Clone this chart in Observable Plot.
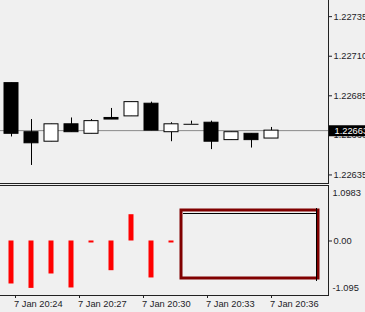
<!DOCTYPE html>
<html><head><meta charset="utf-8">
<script src="https://cdn.jsdelivr.net/npm/d3@7"></script>
<script src="https://cdn.jsdelivr.net/npm/@observablehq/plot@0.6"></script>
<style>
html,body{margin:0;padding:0;background:#f0f0f0;}
#chart{width:365px;height:312px;overflow:hidden;background:#f0f0f0}
#chart svg{display:block;overflow:hidden}
</style></head><body><div id="chart"></div>
<script>
// ---- data ----
const barIndex = [0,1,2,3,4,5,6,7,8,9,10,11,12,13];
const openP  = [1.22693,1.22662,1.22656,1.22667,1.22661,1.22671,1.22672,1.22680,1.22662,1.22667,1.22668,1.22657,1.22661,1.22658];
const highP  = [1.22693,1.22670,1.22667,1.22671,1.22670,1.22677,1.22681,1.22681,1.22668,1.22669,1.22669,1.22662,1.22661,1.22665];
const lowP   = [1.22659,1.22641,1.22656,1.22662,1.22661,1.22670,1.22672,1.22663,1.22656,1.22667,1.22651,1.22657,1.22652,1.22658];
const closeP = [1.22661,1.22655,1.22667,1.22662,1.22669,1.22670,1.22681,1.22663,1.22667,1.22667,1.22656,1.22662,1.22657,1.22663];
const lastPrice = 1.22663;
const priceTicks = [1.22735, 1.22710, 1.22685, 1.22660, 1.22635];

const histIndex = [0,1,2,3,4,5,6,7,8];
const histValues = [-0.993,-1.095,-0.762,-1.085,-0.046,-0.686,0.607,-0.854,-0.046];
const oscExtremes = [1.0983, -1.095];
const oscExtremeLabels = ["1.0983", "-1.095"];
const oscZero = [0];

const timeTickPos = [0.2, 3.4, 6.6, 9.8, 13.0];
const timeTickLabels = ["7 Jan 20:24", "7 Jan 20:27", "7 Jan 20:30", "7 Jan 20:33", "7 Jan 20:36"];

const boxX = [8.5, 15.35];
const boxY = [-0.8663, 0.7042];

// ---- build ----
const BG = "#f0f0f0";
const INK = "#1c1c28";
const FONT = "'Liberation Sans', Arial, sans-serif";
const xDomain = [-0.55, 15.85];
const candles = barIndex.map((i, k) => ({i, o: openP[k], h: highP[k], l: lowP[k], c: closeP[k]}));
const hist = histIndex.map((i, k) => ({i, v: histValues[k]}));

const upper = Plot.plot({
  width: 365, height: 184,
  marginTop: 0, marginBottom: 1, marginLeft: 0, marginRight: 37,
  style: {background: BG, fontFamily: FONT, fontSize: "9.3px", color: INK},
  x: {domain: xDomain, axis: null},
  y: {domain: [1.226296, 1.227452], axis: null},
  marks: [
    Plot.ruleY([lastPrice], {stroke: "#8a8a8a"}),
    Plot.ruleX(candles, {x: "i", y1: "l", y2: "h", stroke: "black"}),
    Plot.rect(candles, {
      x1: d => d.i - 0.35, x2: d => d.i + 0.35, y1: "o", y2: "c",
      fill: d => d.c >= d.o ? "white" : "black", stroke: "black"
    }),
    Plot.ruleY(candles.filter(d => d.o === d.c), {y: "c", x1: d => d.i - 0.375, x2: d => d.i + 0.375, stroke: "black"}),
    Plot.frame({insetLeft: -3, insetTop: -3, stroke: "#222"}),
    Plot.axisY(priceTicks, {anchor: "right", label: null, tickSize: 3, tickPadding: 2, tickFormat: d => d.toFixed(5), fontSize: 9.3}),
    Plot.ruleY([lastPrice], {x1: 15.9, x2: 17.9, stroke: "black", strokeWidth: 11}),
    Plot.text([lastPrice], {x: 15.9, y: d => d, text: d => d.toFixed(5), fill: "white", textAnchor: "start", dx: 5, fontSize: 9.3})
  ]
});

const lower = Plot.plot({
  width: 365, height: 128,
  marginTop: 1, marginBottom: 17, marginLeft: 0, marginRight: 37,
  style: {background: BG, fontFamily: FONT, fontSize: "9.3px", color: INK},
  x: {domain: xDomain, axis: null},
  y: {domain: [-1.095, 1.0983], range: [103.9, 8.94], axis: null},
  marks: [
    Plot.rect(hist, {x1: d => d.i - 0.125, x2: d => d.i + 0.125, y1: 0, y2: "v", fill: "#ff0000"}),
    Plot.rect([0], {x1: boxX[0], x2: boxX[1], y1: boxY[0], y2: boxY[1], fill: BG, stroke: "#800000", strokeWidth: 3}),
    Plot.ruleY([boxY[1]], {x1: boxX[0], x2: boxX[1], dy: 3, insetLeft: 2, insetRight: 2, stroke: "black"}),
    Plot.ruleX([boxX[1]], {y1: boxY[0], y2: boxY[1], dx: -2, insetTop: 3, insetBottom: 2, stroke: "black"}),
    Plot.frame({insetLeft: -3, stroke: "#222"}),
    Plot.ruleX(timeTickPos, {x: d => d, insetTop: 110, insetBottom: -3, stroke: "#222"}),
    Plot.text(timeTickPos, {x: d => d, frameAnchor: "bottom", dy: 11, dx: -1.5, text: (d, k) => timeTickLabels[k], textAnchor: "start", fontSize: 9.3}),
    Plot.axisY(oscZero, {anchor: "right", label: null, tickSize: 3, tickPadding: 2, tickFormat: d => d.toFixed(2), fontSize: 9.3}),
    Plot.text(oscExtremes, {y: d => d, frameAnchor: "right", dx: 4, text: (d, k) => oscExtremeLabels[k], textAnchor: "start", fontSize: 9.3})
  ]
});

const root = document.getElementById("chart");
root.appendChild(upper);
root.appendChild(lower);
</script>
</body></html>
